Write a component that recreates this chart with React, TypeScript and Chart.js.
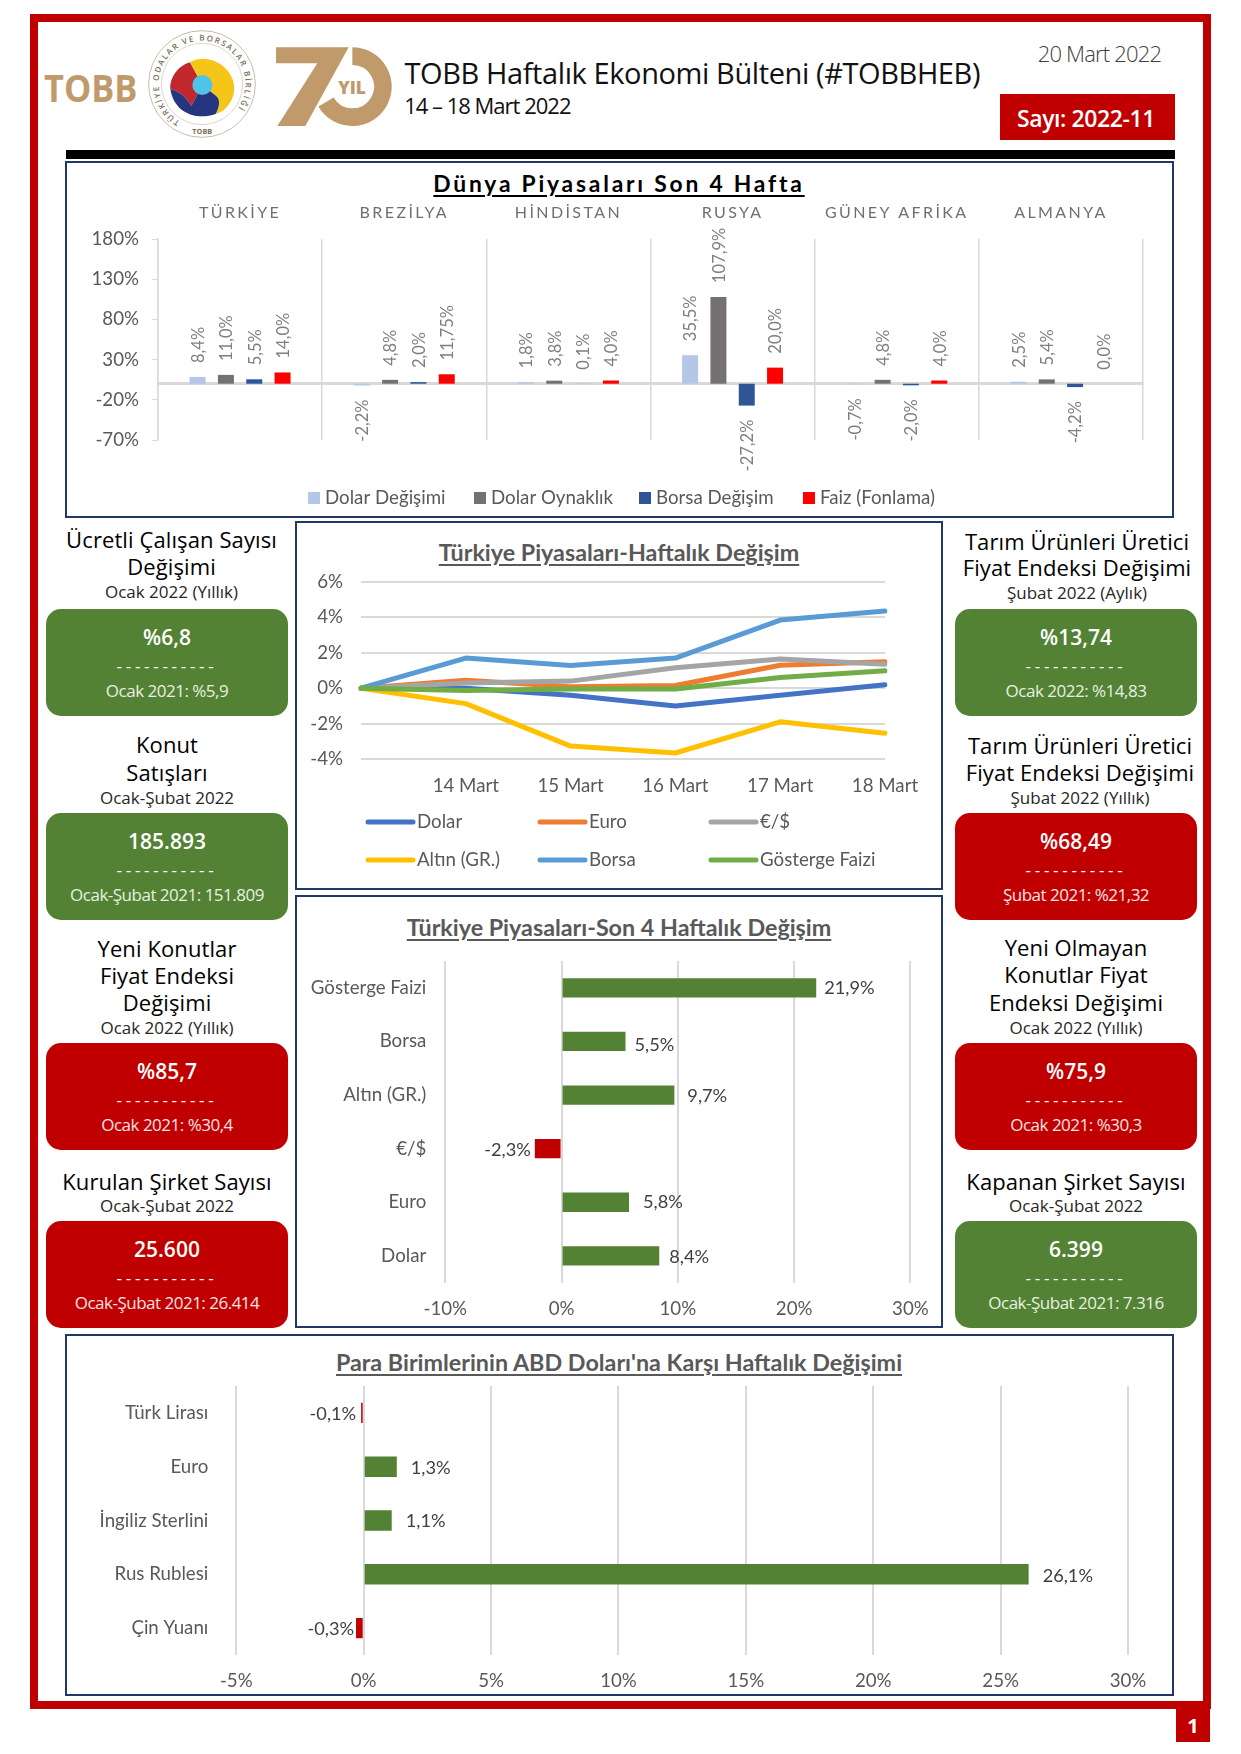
import React, { useEffect, useRef } from "react";
import { Chart, registerables } from "chart.js";

Chart.register(...registerables);

// ---------- data ----------
const countries = ["TÜRKİYE", "BREZİLYA", "HİNDİSTAN", "RUSYA", "GÜNEY AFRİKA", "ALMANYA"];
const worldSeriesNames = ["Dolar Değişimi", "Dolar Oynaklık", "Borsa Değişim", "Faiz (Fonlama)"];
const dolarDegisimi = [8.4, -2.2, 1.8, 35.5, -0.7, 2.5];
const dolarOynaklik = [11.0, 4.8, 3.8, 107.9, 4.8, 5.4];
const borsaDegisim = [5.5, 2.0, 0.1, -27.2, -2.0, -4.2];
const faizFonlama = [14.0, 11.75, 4.0, 20.0, 4.0, 0.0];
const worldColors = ["#B4C7E7", "#767171", "#2F5597", "#FF0000"];

const weekDays = ["", "14 Mart", "15 Mart", "16 Mart", "17 Mart", "18 Mart"];
const weekDolar = [0, 0.0, -0.4, -1.0, -0.4, 0.2];
const weekEuro = [0, 0.45, 0.08, 0.15, 1.3, 1.5];
const weekEurUsd = [0, 0.3, 0.4, 1.15, 1.65, 1.35];
const weekAltin = [0, -0.87, -3.27, -3.66, -1.9, -2.55];
const weekBorsa = [0, 1.7, 1.28, 1.7, 3.85, 4.36];
const weekFaiz = [0, -0.13, -0.04, -0.04, 0.6, 0.98];
const weekNames = ["Dolar", "Euro", "€/$", "Altın (GR.)", "Borsa", "Gösterge Faizi"];
const weekColors = ["#4472C4", "#ED7D31", "#A5A5A5", "#FFC000", "#5B9BD5", "#70AD47"];

const fourWeekNames = ["Gösterge Faizi", "Borsa", "Altın (GR.)", "€/$", "Euro", "Dolar"];
const fourWeekValues = [21.9, 5.5, 9.7, -2.3, 5.8, 8.4];

const currencyNames = ["Türk Lirası", "Euro", "İngiliz Sterlini", "Rus Rublesi", "Çin Yuanı"];
const currencyValues = [-0.1, 1.3, 1.1, 26.1, -0.3];

const leftCards = [
  { lines: ["Ücretli Çalışan Sayısı", "Değişimi"], sub: "Ocak 2022 (Yıllık)", value: "%6,8", prev: "Ocak 2021: %5,9", good: true },
  { lines: ["Konut", "Satışları"], sub: "Ocak-Şubat 2022", value: "185.893", prev: "Ocak-Şubat 2021: 151.809", good: true },
  { lines: ["Yeni Konutlar", "Fiyat Endeksi", "Değişimi"], sub: "Ocak 2022 (Yıllık)", value: "%85,7", prev: "Ocak 2021: %30,4", good: false },
  { lines: ["Kurulan Şirket Sayısı"], sub: "Ocak-Şubat 2022", value: "25.600", prev: "Ocak-Şubat 2021: 26.414", good: false },
];
const rightCards = [
  { lines: ["Tarım Ürünleri Üretici", "Fiyat Endeksi Değişimi"], sub: "Şubat 2022 (Aylık)", value: "%13,74", prev: "Ocak 2022: %14,83", good: true },
  { lines: ["Tarım Ürünleri Üretici", "Fiyat Endeksi Değişimi"], sub: "Şubat 2022 (Yıllık)", value: "%68,49", prev: "Şubat 2021: %21,32", good: false },
  { lines: ["Yeni Olmayan", "Konutlar Fiyat", "Endeksi Değişimi"], sub: "Ocak 2022 (Yıllık)", value: "%75,9", prev: "Ocak 2021: %30,3", good: false },
  { lines: ["Kapanan Şirket Sayısı"], sub: "Ocak-Şubat 2022", value: "6.399", prev: "Ocak-Şubat 2021: 7.316", good: true },
];

// ---------- layout ----------
const cardTops = [608.7, 812.7, 1043.3, 1220.7];
const lineCentersLeft = [[539, 566], [744, 771.7], [948.3, 975, 1002.3], [1180.7]];
const lineCentersRight = [[540.7, 567.3], [744.7, 771.7], [947, 974, 1001.7], [1180.7]];
const subCentersLeft = [591, 796.7, 1027.3, 1205];
const subCentersRight = [592, 796.7, 1027.3, 1205];
const leftTitleCx = [171.5, 167, 167, 167];
const rightTitleCx = [1077, 1080, 1076, 1076];

const GREEN = "#548235";
const RED = "#C00000";
const NAVY = "#1F3864";
const GRID = "#D9D9D9";
const TICK = "#595959";
const CHART_FONT = "Lato";
const UI_FONT = "'Open Sans'";

const pct = (v: number) => {
  const twoDecimals = Math.abs(v * 10 - Math.round(v * 10)) > 1e-6;
  return v.toFixed(twoDecimals ? 2 : 1).replace(".", ",") + "%";
};

// ---------- plugins ----------
function barLabels(cfg: { size: number; color: string; gap: number; rotated?: boolean; nudgeX?: number[]; nudgeY?: number[] }) {
  return {
    id: "barLabels",
    afterDatasetsDraw(chart: any) {
      const ctx = chart.ctx;
      ctx.save();
      ctx.font = `${cfg.size}px ${CHART_FONT}`;
      ctx.fillStyle = cfg.color;
      ctx.textBaseline = "middle";
      chart.data.datasets.forEach((ds: any, di: number) => {
        chart.getDatasetMeta(di).data.forEach((el: any, i: number) => {
          const v = ds.data[i];
          const text = pct(v);
          if (cfg.rotated) {
            const neg = v < 0;
            ctx.save();
            ctx.translate(el.x, neg ? el.y + cfg.gap : el.y - cfg.gap);
            ctx.rotate(-Math.PI / 2);
            ctx.textAlign = neg ? "right" : "left";
            ctx.fillText(text, 0, 1);
            ctx.restore();
          } else {
            const neg = v < 0;
            const dx = cfg.nudgeX ? cfg.nudgeX[i] : cfg.gap;
            const dy = cfg.nudgeY ? cfg.nudgeY[i] : 0;
            ctx.textAlign = neg ? "right" : "left";
            ctx.fillText(text, neg ? el.x - dx : el.x + dx, el.y + dy);
          }
        });
      });
      ctx.restore();
    },
  };
}

function gridLegend(cfg: { xs: number[]; ys: number[]; swatch: "square" | "line"; textX: number; perRow: number }) {
  return {
    id: "gridLegend",
    afterDraw(chart: any) {
      const ctx = chart.ctx;
      ctx.save();
      ctx.font = `18.7px ${CHART_FONT}`;
      ctx.textBaseline = "middle";
      ctx.textAlign = "left";
      chart.data.datasets.forEach((ds: any, i: number) => {
        const x = cfg.xs[i % cfg.perRow];
        const y = cfg.ys[Math.floor(i / cfg.perRow)];
        if (cfg.swatch === "square") {
          ctx.fillStyle = ds.backgroundColor;
          ctx.fillRect(x, y - 6, 12, 12);
        } else {
          ctx.strokeStyle = ds.borderColor;
          ctx.lineWidth = 5;
          ctx.lineCap = "round";
          ctx.beginPath();
          ctx.moveTo(x + 2, y);
          ctx.lineTo(x + cfg.textX - 4, y);
          ctx.stroke();
        }
        ctx.fillStyle = TICK;
        ctx.fillText(ds.label, x + cfg.textX, y);
      });
      ctx.restore();
    },
  };
}

const groupHeaders = {
  id: "groupHeaders",
  afterDraw(chart: any) {
    const ctx = chart.ctx;
    const scale = chart.scales.x;
    ctx.save();
    ctx.font = `16px ${CHART_FONT}`;
    ctx.fillStyle = "#6F6F6F";
    ctx.textAlign = "center";
    ctx.textBaseline = "middle";
    ctx.letterSpacing = "2.4px";
    countries.forEach((name, i) => ctx.fillText(name, scale.getPixelForTick(i), 15));
    ctx.restore();
  },
};

const noPad = (scale: any) => {
  scale.paddingTop = 0;
  scale.paddingBottom = 0;
  scale.paddingLeft = 0;
  scale.paddingRight = 0;
};
const fixWidth = (w: number) => (scale: any) => {
  scale.width = w;
  noPad(scale);
};
const fixHeight = (h: number) => (scale: any) => {
  scale.height = h;
  noPad(scale);
};
const tickFont = { family: CHART_FONT, size: 18.7 };

// ---------- charts ----------
function worldChart(canvas: HTMLCanvasElement) {
  const series = [dolarDegisimi, dolarOynaklik, borsaDegisim, faizFonlama];
  return new Chart(canvas, {
    type: "bar",
    data: {
      labels: countries,
      datasets: series.map((data, i) => ({
        label: worldSeriesNames[i],
        data,
        backgroundColor: worldColors[i],
        categoryPercentage: 0.69,
        barPercentage: 0.565,
      })),
    },
    options: {
      animation: false,
      responsive: false,
      devicePixelRatio: 1,
      layout: { padding: { top: 41, right: 29, bottom: 76, left: 0 } },
      plugins: { legend: { display: false }, tooltip: { enabled: false } },
      scales: {
        x: {
          position: { y: 0 },
          afterFit: noPad,
          grid: { offset: true, color: GRID, lineWidth: 1.5, drawTicks: false },
          border: { color: GRID, width: 3 },
          ticks: { display: false },
        },
        y: {
          min: -70,
          max: 180,
          afterFit: fixWidth(92),
          grid: { drawOnChartArea: false, color: GRID, tickLength: 6 },
          border: { color: GRID, width: 1.5 },
          ticks: { stepSize: 50, font: tickFont, color: TICK, padding: 13, callback: (v: any) => `${v}%` },
        },
      },
    } as any,
    plugins: [
      barLabels({ size: 16.5, color: "#7F7F7F", gap: 14, rotated: true }),
      groupHeaders,
      gridLegend({ xs: [242, 408, 573, 737], ys: [300], swatch: "square", textX: 17, perRow: 4 }),
    ] as any,
  });
}

function weekChart(canvas: HTMLCanvasElement) {
  const series = [weekDolar, weekEuro, weekEurUsd, weekAltin, weekBorsa, weekFaiz];
  return new Chart(canvas, {
    type: "line",
    data: {
      labels: weekDays,
      datasets: series.map((data, i) => ({
        label: weekNames[i],
        data,
        borderColor: weekColors[i],
        backgroundColor: weekColors[i],
        borderWidth: 5,
        borderCapStyle: "round",
        borderJoinStyle: "round",
        pointRadius: 0,
        tension: 0,
        order: series.length - i,
      })),
    },
    options: {
      animation: false,
      responsive: false,
      devicePixelRatio: 1,
      layout: { padding: { top: 12, right: 56, left: 0, bottom: 0 } },
      plugins: { legend: { display: false }, tooltip: { enabled: false } },
      scales: {
        x: {
          offset: false,
          afterFit: fixHeight(129),
          grid: { display: false, drawTicks: false },
          border: { display: false },
          ticks: { font: tickFont, color: TICK, padding: 16, autoSkip: false, maxRotation: 0, align: "center" },
        },
        y: {
          min: -4,
          max: 6,
          afterFit: fixWidth(64),
          grid: { color: GRID, lineWidth: 2, drawTicks: false },
          border: { display: false },
          ticks: { stepSize: 2, font: tickFont, color: TICK, padding: 18, callback: (v: any) => `${v}%` },
        },
      },
    } as any,
    plugins: [gridLegend({ xs: [69, 241, 412], ys: [252, 290], swatch: "line", textX: 51, perRow: 3 })] as any,
  });
}

function hBarChart(
  canvas: HTMLCanvasElement,
  cfg: {
    labels: string[];
    values: number[];
    min: number;
    max: number;
    step: number;
    yWidth: number;
    yPad: number;
    xHeight: number;
    xPad: number;
    padding: any;
    barPct: number;
    nudgeX: number[];
    nudgeY: number[];
  }
) {
  return new Chart(canvas, {
    type: "bar",
    data: {
      labels: cfg.labels,
      datasets: [
        {
          label: "Değişim",
          data: cfg.values,
          backgroundColor: cfg.values.map((v) => (v < 0 ? RED : GREEN)),
          categoryPercentage: 1,
          barPercentage: cfg.barPct,
        },
      ],
    },
    options: {
      indexAxis: "y",
      animation: false,
      responsive: false,
      devicePixelRatio: 1,
      layout: { padding: cfg.padding },
      plugins: { legend: { display: false }, tooltip: { enabled: false } },
      scales: {
        x: {
          min: cfg.min,
          max: cfg.max,
          afterFit: fixHeight(cfg.xHeight),
          grid: { color: GRID, lineWidth: 2, drawTicks: false },
          border: { display: false },
          ticks: { stepSize: cfg.step, font: tickFont, color: TICK, padding: cfg.xPad, maxRotation: 0, callback: (v: any) => `${v}%` },
        },
        y: {
          afterFit: fixWidth(cfg.yWidth),
          grid: { display: false, drawTicks: false },
          border: { display: false },
          ticks: { font: tickFont, color: TICK, padding: cfg.yPad, autoSkip: false },
        },
      },
    } as any,
    plugins: [barLabels({ size: 18.2, color: "#404040", gap: 10, nudgeX: cfg.nudgeX, nudgeY: cfg.nudgeY })] as any,
  });
}

// ---------- components ----------
const centered = (x: number, y: number): React.CSSProperties => ({
  position: "absolute",
  left: x,
  top: y,
  transform: "translate(-50%,-50%)",
  whiteSpace: "nowrap",
});

function Logos() {
  return (
    <svg viewBox="0 0 1140 390" style={{ position: "absolute", left: 30, top: 20, width: 380, height: 130 }}>
      <defs>
        <path id="sealArc" d="M 450 304 A 130 130 0 1 1 582 304" />
      </defs>
      <text x="42" y="246" textLength="280" lengthAdjust="spacingAndGlyphs" fontFamily={UI_FONT} fontWeight="700" fontSize="112" fill="#C09A6B">
        TOBB
      </text>
      <circle cx="516" cy="192" r="160" fill="none" stroke="#B8B09C" strokeWidth="2.5" />
      <circle cx="516" cy="192" r="122" fill="none" stroke="#C8C2B0" strokeWidth="2" />
      <text fontFamily={UI_FONT} fontWeight="600" fontSize="24" fill="#7A6F58" letterSpacing="5">
        <textPath href="#sealArc">TÜRKİYE ODALAR VE BORSALAR BİRLİĞİ</textPath>
      </text>
      <text x="517" y="343" textAnchor="middle" fontFamily={UI_FONT} fontWeight="700" fontSize="22" fill="#7A6F58">
        TOBB
      </text>
      <path d="M480 127 C445 137 419 172 421 207 C448 214 470 232 484 258 L517 195 Z" fill="#C1272D" />
      <path d="M480 127 C540 92 622 150 612 215 C608 245 585 275 557 282 C572 255 570 235 555 225 L517 195 Z" fill="#F5C518" />
      <path d="M421 207 C448 214 470 232 484 258 L517 195 L555 225 C570 235 572 255 557 282 C500 302 432 280 421 207 Z" fill="#25357F" />
      <circle cx="517" cy="195" r="30" fill="#4FC3E8" />
      <path d="M967 108.5 A 91.5 91.5 0 1 1 888 246" fill="none" stroke="#C09A6B" strokeWidth="53" />
      <polygon points="738,82 956,82 826,318 742,318 862,130 738,130" fill="#C09A6B" stroke="#fff" strokeWidth="5" paintOrder="stroke" />
      <text x="966" y="222" textAnchor="middle" fontFamily={UI_FONT} fontWeight="800" fontSize="52" fill="#C09A6B">
        YIL
      </text>
    </svg>
  );
}

function Card({ data, x, top, lines, sub, titleCx }: any) {
  const w = 242.6;
  const cx = x + w / 2;
  return (
    <>
      {data.lines.map((t: string, i: number) => (
        <div key={i} style={{ ...centered(titleCx, lines[i]), font: `22px ${UI_FONT}`, letterSpacing: 0.1, color: "#000" }}>
          {t}
        </div>
      ))}
      <div style={{ ...centered(titleCx, sub), font: `17px ${UI_FONT}`, letterSpacing: 0, color: "#262626" }}>{data.sub}</div>
      <div style={{ position: "absolute", left: x, top, width: w, height: 107, borderRadius: 15, background: data.good ? GREEN : RED }} />
      <div style={{ ...centered(cx, top + 28), font: `600 21px ${UI_FONT}`, color: "#fff" }}>{data.value}</div>
      <div style={{ ...centered(cx, top + 56), font: `400 17px ${UI_FONT}`, letterSpacing: 3.7, color: "#fff" }}>-----------</div>
      <div style={{ ...centered(cx, top + 81), font: `17px ${UI_FONT}`, letterSpacing: -0.5, color: data.good ? "#E8F0E0" : "#FBE4E4" }}>{data.prev}</div>
    </>
  );
}

const box = (left: number, top: number, right: number, bottom: number): React.CSSProperties => ({
  position: "absolute",
  left,
  top,
  width: right - left,
  height: bottom - top,
  boxSizing: "border-box",
  border: `2px solid ${NAVY}`,
  background: "#fff",
});

const chartTitle = (size: number): React.CSSProperties => ({
  font: `700 ${size}px ${CHART_FONT}`,
  color: "#595959",
  textDecoration: "underline",
  textUnderlineOffset: 3,
});

export default function App() {
  const aRef = useRef<HTMLCanvasElement>(null);
  const bRef = useRef<HTMLCanvasElement>(null);
  const cRef = useRef<HTMLCanvasElement>(null);
  const dRef = useRef<HTMLCanvasElement>(null);

  useEffect(() => {
    const charts = [
      worldChart(aRef.current!),
      weekChart(bRef.current!),
      hBarChart(cRef.current!, {
        labels: fourWeekNames,
        values: fourWeekValues,
        min: -10,
        max: 30,
        step: 10,
        yWidth: 148.3,
        yPad: 19,
        xHeight: 43.3,
        xPad: 15,
        padding: { top: 11, right: 30.6, left: 0, bottom: 0 },
        barPct: 0.36,
        nudgeX: [8, 9, 13, 4, 14, 10],
        nudgeY: [0, 4, 1, 1, 0, 1],
      }),
      hBarChart(dRef.current!, {
        labels: currencyNames,
        values: currencyValues,
        min: -5,
        max: 30,
        step: 5,
        yWidth: 169.3,
        yPad: 28,
        xHeight: 39,
        xPad: 15,
        padding: { top: 10, right: 43, left: 0, bottom: 0 },
        barPct: 0.38,
        nudgeX: [5, 14, 14, 14, 2],
        nudgeY: [1, 1, 1, 2, 1],
      }),
    ];
    return () => charts.forEach((c) => c.destroy());
  }, []);

  const canvasAt = (left: number, top: number): React.CSSProperties => ({ position: "absolute", left, top });

  return (
    <div style={{ position: "absolute", left: 0, top: 0, width: 1241, height: 1754, overflow: "hidden", background: "#fff" }}>
      {/* frame */}
      <div style={{ position: "absolute", left: 29.5, top: 14, width: 1181.5, height: 1695, boxSizing: "border-box", border: `8px solid ${RED}` }} />
      <div style={{ position: "absolute", left: 1176, top: 1709, width: 34, height: 33, background: RED, color: "#fff", font: `700 20px ${UI_FONT}`, textAlign: "center", lineHeight: "33px" }}>1</div>

      {/* header */}
      <Logos />
      <div style={{ ...centered(692.3, 71.5), font: `29px ${UI_FONT}`, letterSpacing: -0.4, color: "#111" }}>TOBB Haftalık Ekonomi Bülteni (#TOBBHEB)</div>
      <div style={{ ...centered(487.3, 105), font: `22px ${UI_FONT}`, letterSpacing: -1, color: "#111" }}>14 – 18 Mart 2022</div>
      <div style={{ ...centered(1099.5, 52.5), font: `300 22px ${UI_FONT}`, letterSpacing: -0.8, color: "#404040" }}>20 Mart 2022</div>
      <div style={{ position: "absolute", left: 999.6, top: 94, width: 175.7, height: 46, background: RED }} />
      <div style={{ ...centered(1086, 117.5), font: `600 23px ${UI_FONT}`, letterSpacing: -0.4, color: "#fff" }}>Sayı: 2022-11</div>
      <div style={{ position: "absolute", left: 66, top: 150, width: 1108.5, height: 9, background: "#000" }} />

      {/* world panel */}
      <div style={box(65, 161, 1174, 518)} />
      <div style={{ ...centered(619, 183), font: `700 22.8px ${CHART_FONT}`, letterSpacing: 2.8, color: "#000", textDecoration: "underline", textUnderlineOffset: 3 }}>Dünya Piyasaları Son 4 Hafta</div>
      <canvas ref={aRef} width={1106} height={318} style={canvasAt(66, 198)} />

      {/* week panel */}
      <div style={box(295, 521, 943, 890)} />
      <div style={{ ...centered(619, 552), ...chartTitle(23.3) }}>Türkiye Piyasaları-Haftalık Değişim</div>
      <canvas ref={bRef} width={644} height={318} style={canvasAt(297, 570)} />

      {/* four-week panel */}
      <div style={box(295, 895, 943, 1328)} />
      <div style={{ ...centered(619, 927), ...chartTitle(23.3) }}>Türkiye Piyasaları-Son 4 Haftalık Değişim</div>
      <canvas ref={cRef} width={644} height={376} style={canvasAt(297, 950)} />

      {/* currency panel */}
      <div style={box(65, 1334, 1174, 1696)} />
      <div style={{ ...centered(619, 1362), ...chartTitle(23.3) }}>Para Birimlerinin ABD Doları'na Karşı Haftalık Değişimi</div>
      <canvas ref={dRef} width={1104} height={318} style={canvasAt(67, 1376)} />

      {/* KPI cards */}
      {leftCards.map((c, i) => (
        <Card key={"l" + i} data={c} x={45.7} top={cardTops[i]} lines={lineCentersLeft[i]} sub={subCentersLeft[i]} titleCx={leftTitleCx[i]} />
      ))}
      {rightCards.map((c, i) => (
        <Card key={"r" + i} data={c} x={954.7} top={cardTops[i]} lines={lineCentersRight[i]} sub={subCentersRight[i]} titleCx={rightTitleCx[i]} />
      ))}
    </div>
  );
}
